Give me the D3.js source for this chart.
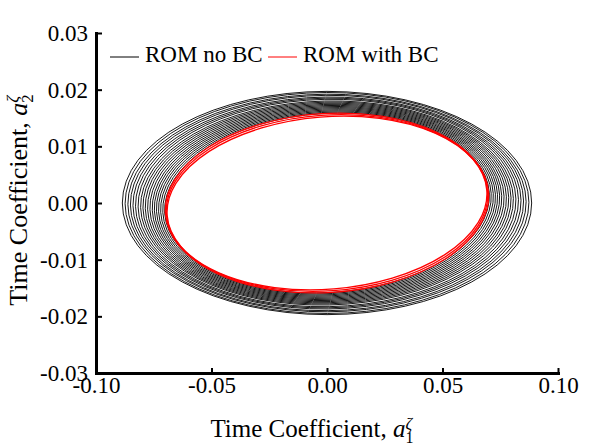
<!DOCTYPE html>
<html>
<head>
<meta charset="utf-8">
<script src="https://cdn.jsdelivr.net/npm/d3@7"></script>
<style>
  body { margin: 0; background: #fff; }
  text { font-family: "Liberation Serif", "Times New Roman", serif; }
</style>
</head>
<body>
<div id="graph"></div>
<script>
// loop semi-axes (outer -> inner), tilt in degrees
var noBcA1 = [0.0886, 0.0874, 0.0862, 0.0851, 0.0840, 0.0829, 0.0818, 0.0807, 0.0797, 0.0787,
              0.0777, 0.0767, 0.0757, 0.0748, 0.0739, 0.0730, 0.0721, 0.0712, 0.0704];
var noBcA2 = [0.0197, 0.0195, 0.0192, 0.0190, 0.0187, 0.0185, 0.0183, 0.0180, 0.0178, 0.0176,
              0.0174, 0.0172, 0.0170, 0.0168, 0.0166, 0.0164, 0.0162, 0.0160, 0.0158];
var noBcTilt = [0, -0.2, -0.4, -0.6, -0.8, -1.0, -1.2, -1.4, -1.6, -1.8,
                -2.0, -2.2, -2.4, -2.6, -2.8, -3.0, -3.2, -3.4, -3.6];

var bcA1 = [0.0701, 0.0697, 0.0694];
var bcA2 = [0.0158, 0.0155, 0.0152];
var bcTilt = [-3.6, -4.0, -4.6];

var xTicks = [-0.10, -0.05, 0.00, 0.05, 0.10];
var yTicks = [-0.03, -0.02, -0.01, 0.00, 0.01, 0.02, 0.03];
var legendNames = ["ROM no BC", "ROM with BC"];
var colors = ["#000000", "#ff0000"];

var margin = { top: 33, right: 58, bottom: 73, left: 96 },
    width = 616 - margin.left - margin.right,
    height = 446 - margin.top - margin.bottom;

var fmt = function(d){ return d3.format(".2f")(d).replace("\u2212", "-"); };

var svg = d3.select('#graph').append('svg')
    .attr('width', 616)
    .attr('height', 446)
    .append("g")
    .attr("transform", "translate(" + margin.left + "," + margin.top + ")");

var x = d3.scaleLinear().domain([-0.1, 0.1]).range([0, width]);
var y = d3.scaleLinear().domain([-0.03, 0.03]).range([height, 0]);

// black spiral loops
var loops = noBcA1.map(function(a, i){ return { a1: a, a2: noBcA2[i], tilt: noBcTilt[i] }; });
svg.selectAll('ellipse.nobc')
    .data(loops)
    .enter()
    .append("ellipse")
      .attr("class", "nobc")
      .attr("cx", x(0))
      .attr("cy", y(0))
      .attr("rx", function(d){ return x(d.a1) - x(0); })
      .attr("ry", function(d){ return y(0) - y(d.a2); })
      .attr("transform", function(d){ return "rotate(" + d.tilt + "," + x(0) + "," + y(0) + ")"; })
      .style("fill", "none")
      .style("stroke", colors[0])
      .style("stroke-width", 0.9);

// red loops
var bcLoops = bcA1.map(function(a, i){ return { a1: a, a2: bcA2[i], tilt: bcTilt[i] }; });
svg.selectAll('ellipse.bc')
    .data(bcLoops)
    .enter()
    .append("ellipse")
      .attr("class", "bc")
      .attr("cx", x(0))
      .attr("cy", y(0))
      .attr("rx", function(d){ return x(d.a1) - x(0); })
      .attr("ry", function(d){ return y(0) - y(d.a2); })
      .attr("transform", function(d){ return "rotate(" + d.tilt + "," + x(0) + "," + y(0) + ")"; })
      .style("fill", "none")
      .style("stroke", colors[1])
      .style("stroke-width", 1.3);

// axes, ticks inward
var xAxis = svg.append("g")
    .attr("transform", "translate(0," + height + ")")
    .call(d3.axisBottom(x).tickValues(xTicks).tickFormat(fmt)
        .tickSizeInner(-5).tickSizeOuter(0).tickPadding(4));
var yAxis = svg.append("g")
    .call(d3.axisLeft(y).tickValues(yTicks).tickFormat(fmt)
        .tickSizeInner(-6).tickSizeOuter(0).tickPadding(8));

[xAxis, yAxis].forEach(function(g){
    g.select(".domain").style("stroke-width", 3).attr("stroke-linecap", "square");
    g.selectAll(".tick line").style("stroke-width", 2);
    g.selectAll(".tick text")
        .style("font-family", "Liberation Serif")
        .style("font-size", "23px")
        .style("fill", "#000");
});

// legend
var legend = svg.append("g").attr("transform", "translate(0,24)");
var legX = [14, 172];
legendNames.forEach(function(name, i){
    legend.append("line")
        .attr("x1", legX[i]).attr("x2", legX[i] + 29)
        .attr("y1", 0).attr("y2", 0)
        .style("stroke", colors[i])
        .style("stroke-width", 1);
    legend.append("text")
        .attr("x", legX[i] + 35)
        .attr("y", 5)
        .style("font-size", "23px")
        .text(name);
});

// axis titles
function axisTitle(sel, sub, fs){
    sel.append("tspan").text("Time Coefficient, ");
    sel.append("tspan").style("font-style", "italic").text("a");
    sel.append("tspan").attr("dy", fs * 0.24).style("font-size", (fs * 0.64) + "px").text(sub);
    sel.append("tspan").attr("dx", -fs * 0.32).attr("dy", -fs * 0.58).style("font-size", (fs * 0.66) + "px")
        .style("font-style", "italic").text("ζ");
}

var xt = svg.append("text")
    .attr("x", 312 - margin.left)
    .attr("y", 437 - margin.top)
    .attr("text-anchor", "middle")
    .style("font-size", "25px");
axisTitle(xt, "1", 25);

var yt = svg.append("text")
    .attr("transform", "translate(" + (27 - margin.left) + "," + (200 - margin.top) + ") rotate(-90)")
    .attr("text-anchor", "middle")
    .style("font-size", "26px");
axisTitle(yt, "2", 26);
</script>
</body>
</html>
